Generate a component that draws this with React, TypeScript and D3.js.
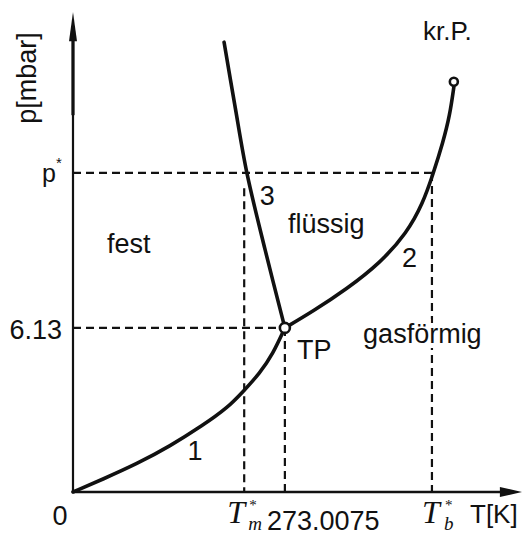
import React from "react";
import * as d3 from "d3";

// Schematic phase diagram of water (p–T), values in schematic axis units
const sublimationCurve: [number, number][] = [
  [0, 0], [6.7, 2.7], [14.3, 5.9], [21.7, 9.6], [29.1, 14.0], [34.5, 17.6], [38.0, 21.0], [41.8, 24.9], [44.7, 28.9], [47.4, 34.4],
];
const vaporizationCurve: [number, number][] = [
  [47.4, 34.4], [53.7, 37.9], [61.3, 42.6], [68.7, 48.0], [74.7, 54.3], [78.3, 60.6], [80.5, 66.5], [82.8, 73.4], [84.3, 79.0], [85.2, 84.9],
];
const meltingCurve: [number, number][] = [
  [47.4, 34.4], [43.0, 50.7], [38.9, 66.9], [36.2, 81.1], [33.8, 94.3],
];

const triplePoint: [number, number] = [47.4, 34.4];
const criticalPoint: [number, number] = [85.2, 86.0];

const tempMelt = 38.3;
const tempTriple = 47.4;
const tempBoil = 80.3;
const pressStar = 66.9;
const pressTriple = 34.4;
const tempMeltLineTop = 63.7;

const curveLabels = [
  { text: "1", t: 25.6, p: 6.7 },
  { text: "2", t: 73.6, p: 47.2 },
  { text: "3", t: 41.8, p: 60.2 },
];
const regionLabels = [
  { text: "fest", t: 7.6, p: 50.1 },
  { text: "flüssig", t: 48.1, p: 54.3 },
  { text: "gasförmig", t: 64.9, p: 31.2 },
  { text: "TP", t: 50.1, p: 27.9 },
  { text: "kr.P.", t: 78.3, p: 94.8 },
];

const W = 524;
const H = 535;
const sans = "'Liberation Sans', Arial, Helvetica, sans-serif";
const serif = "'Liberation Serif', 'Times New Roman', serif";

export default function App() {
  const x = d3.scaleLinear().domain([0, 100]).range([73, 520]);
  const y = d3.scaleLinear().domain([0, 100]).range([492, 15]);
  const smooth = d3
    .line<[number, number]>()
    .x((d) => x(d[0]))
    .y((d) => y(d[1]))
    .curve(d3.curveBasis);
  const through = d3
    .line<[number, number]>()
    .x((d) => x(d[0]))
    .y((d) => y(d[1]))
    .curve(d3.curveCatmullRom.alpha(0.5));

  const dash = "8 5";
  const x0 = x(0);
  const y0 = y(0);

  return (
    <svg
      width={W}
      height={H}
      style={{ position: "absolute", left: 0, top: 0, background: "#fff" }}
      fontFamily={sans}
    >
      {/* guide lines */}
      <g stroke="#111" strokeWidth={2.2} strokeDasharray={dash} fill="none">
        <line x1={x0} x2={x(81.0)} y1={y(pressStar)} y2={y(pressStar)} />
        <line x1={x0} x2={x(tempTriple)} y1={y(pressTriple)} y2={y(pressTriple)} />
        <line x1={x(tempMelt)} x2={x(tempMelt)} y1={y(tempMeltLineTop)} y2={y0} />
        <line x1={x(tempTriple)} x2={x(tempTriple)} y1={y(pressTriple)} y2={y0} />
        <line x1={x(tempBoil)} x2={x(tempBoil)} y1={y(pressStar)} y2={y0} />
      </g>

      {/* axes */}
      <g stroke="#111" fill="none">
        <line x1={x0} x2={x0} y1={y0 + 1} y2={y(97)} strokeWidth={2.2} />
        <line x1={x0} x2={x0} y1={y(79)} y2={y(97)} strokeWidth={3.2} />
        <line x1={x0 - 1} x2={x(97)} y1={y0} y2={y0} strokeWidth={2.4} />
      </g>
      <path
        d={`M${x0},${y(100) - 3} L${x0 - 4},${y(94.5)} L${x0 + 4},${y(94.5)} Z`}
        fill="#111"
      />
      <path
        d={`M${x(100) + 2},${y0} L${x(95.5)},${y0 - 5} L${x(95.5)},${y0 + 5} Z`}
        fill="#111"
      />

      {/* phase boundaries */}
      <g stroke="#111" strokeWidth={3.6} fill="none" strokeLinecap="round">
        <path d={smooth(sublimationCurve) ?? ""} />
        <path d={smooth(vaporizationCurve) ?? ""} />
        <path d={through(meltingCurve) ?? ""} />
      </g>
      <circle cx={x(triplePoint[0])} cy={y(triplePoint[1])} r={5} fill="#fff" stroke="#111" strokeWidth={2.6} />
      <circle cx={x(criticalPoint[0])} cy={y(criticalPoint[1])} r={4} fill="#fff" stroke="#111" strokeWidth={2.6} />

      {/* labels */}
      <g fontSize={27} fill="#111">
        {curveLabels.map((l) => (
          <text key={l.text} x={x(l.t)} y={y(l.p)}>
            {l.text}
          </text>
        ))}
        {regionLabels.map((l) => (
          <text
            key={l.text}
            x={x(l.t)}
            y={y(l.p)}
            stroke="#fff"
            strokeWidth={10}
            paintOrder="stroke"
            fontSize={l.text === "kr.P." ? 26 : 27}
          >
            {l.text}
          </text>
        ))}
      </g>

      {/* axis titles */}
      <text
        transform={`translate(36,${y(86.8)}) rotate(-90)`}
        textAnchor="middle"
        fontSize={27}
        fill="#111"
      >
        p[mbar]
      </text>
      <text x={x(100) - 50} y={523} fontSize={26} fill="#111">
        T[K]
      </text>

      {/* y tick labels */}
      <text x={x0 - 11} y={y(pressTriple) + 11} textAnchor="end" fontSize={27} fill="#111">
        6.13
      </text>
      <text x={x0 - 31} y={y(pressStar) + 9} fontSize={25} fill="#111">
        p
      </text>
      <text x={x0 - 17} y={y(pressStar) - 5} fontSize={15} fill="#111">
        *
      </text>

      {/* x tick labels */}
      <text x={x0 - 13} y={525} textAnchor="middle" fontSize={27} fill="#111">
        0
      </text>
      <g fill="#111">
        <text x={x(tempMelt) - 17} y={523} fontFamily={serif} fontStyle="italic" fontSize={32}>
          T
        </text>
        <text x={x(tempMelt) + 4} y={530} fontFamily={serif} fontStyle="italic" fontSize={19}>
          m
        </text>
        <text x={x(tempMelt) + 5} y={510} fontFamily={serif} fontSize={15}>
          *
        </text>
      </g>
      <text x={x(tempTriple) - 18} y={530} fontSize={27} fill="#111">
        273.0075
      </text>
      <g fill="#111">
        <text x={x(tempBoil) - 10} y={523} fontFamily={serif} fontStyle="italic" fontSize={32}>
          T
        </text>
        <text x={x(tempBoil) + 12} y={530} fontFamily={serif} fontStyle="italic" fontSize={19}>
          b
        </text>
        <text x={x(tempBoil) + 13} y={510} fontFamily={serif} fontSize={15}>
          *
        </text>
      </g>
    </svg>
  );
}
